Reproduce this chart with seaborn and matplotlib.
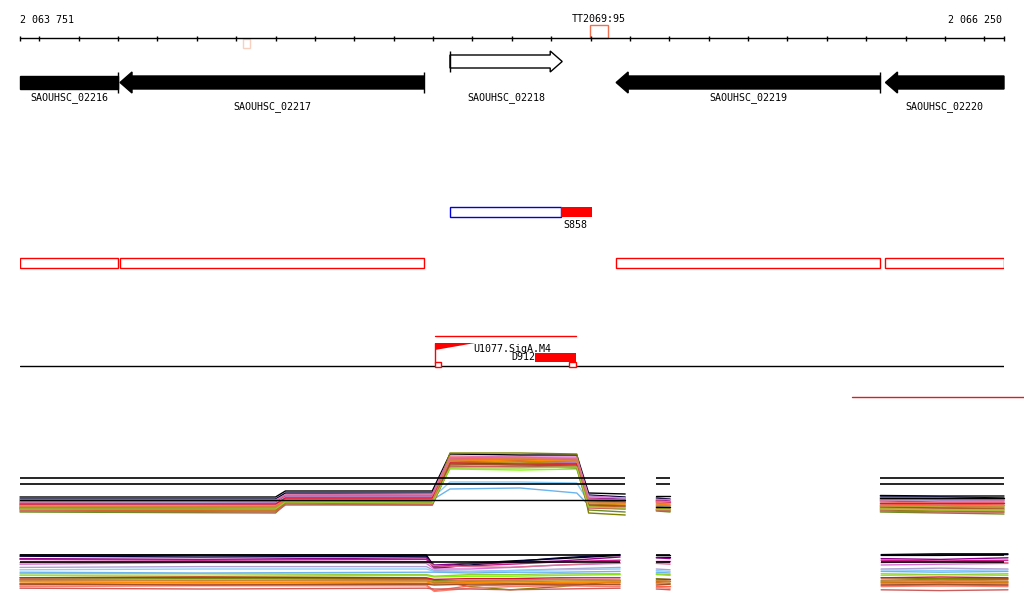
import numpy as np
import pandas as pd
import matplotlib
matplotlib.use('Agg')
import matplotlib.pyplot as plt
from matplotlib.patches import Rectangle
import seaborn as sns

# view window (bp)
view_start, view_end = 2063751, 2066250

# genes
gene_names = ['SAOUHSC_02216', 'SAOUHSC_02217', 'SAOUHSC_02218', 'SAOUHSC_02219', 'SAOUHSC_02220']
gene_starts = [2063480, 2064005, 2064843, 2065265, 2065949]
gene_ends = [2064000, 2064777, 2065128, 2065936, 2066590]
gene_strands = ['-', '-', '+', '-', '-']
gene_filled = [True, True, False, True, True]

# other features
terminator_name = 'TT2069:95'
terminator_span = (2065199, 2065245)
faint_span = (2064318, 2064335)
s858_name = 'S858'
s858_span = (2064843, 2065125, 2065204)
promoter_name = 'U1077.SigA.M4'
promoter_span = (2064805, 2064907)
transcript_span = (2064805, 2065164)
d912_name = 'D912'
d912_span = (2065059, 2065164)
marker_span = (2065865, 2066301)

# expression profiles, panel 1
top_x = [[2063751, 2064400, 2064425, 2064798, 2064843, 2065021, 2065165, 2065195, 2065288],
         [2065367, 2065402],
         [2065936, 2066088, 2066250]]
top_colors = ['#000000', '#000033', '#8B008B', '#C71585', '#DA70D6', '#B0A0D0', '#87CEFA', '#6CB4EE',
              '#7CFC00', '#6B8E23', '#808000', '#B8860B', '#D2691E', '#FF8C00', '#FF6347', '#FA8072',
              '#CD5C5C', '#DC143C', '#A0522D', '#CD853F', '#DB7093', '#9ACD32', '#000000']
top_signal = [
    [4.6, 4.6, 5.8, 5.8, 13.2, 13.0, 13.0, 5.4, 5.2, 4.8, 4.8, 4.9, 4.8, 4.8],
    [4.2, 4.2, 5.4, 5.4, 12.0, 11.8, 11.6, 5.0, 4.6, 4.4, 4.2, 4.6, 4.6, 4.4],
    [3.8, 3.6, 4.8, 4.8, 12.4, 12.2, 12.0, 4.4, 4.2, 4.0, 3.8, 4.2, 4.0, 4.0],
    [3.4, 3.4, 4.6, 4.6, 11.6, 11.8, 11.4, 4.2, 3.8, 3.6, 3.6, 3.8, 3.6, 3.6],
    [4.0, 4.0, 5.0, 5.2, 12.8, 12.6, 12.6, 4.8, 4.4, 4.2, 4.2, 4.4, 4.4, 4.2],
    [3.6, 3.4, 4.6, 4.6, 12.0, 11.6, 11.6, 4.6, 4.4, 3.8, 3.6, 4.0, 3.8, 3.8],
    [3.2, 3.0, 4.2, 4.4, 7.6, 7.6, 7.4, 3.6, 3.4, 3.0, 3.0, 3.4, 3.2, 3.2],
    [3.0, 3.0, 4.0, 4.0, 6.2, 6.4, 5.4, 3.0, 2.8, 2.8, 2.6, 3.0, 3.0, 2.8],
    [2.6, 2.4, 3.8, 3.6, 10.2, 10.0, 10.2, 2.6, 2.2, 2.4, 2.2, 2.8, 2.6, 2.8],
    [1.6, 1.4, 3.2, 3.0, 10.6, 10.8, 10.4, 2.0, 1.6, 1.8, 1.6, 1.6, 1.4, 1.2],
    [2.2, 2.0, 3.6, 3.4, 13.4, 13.4, 13.2, 1.4, 1.0, 2.0, 1.8, 2.0, 1.8, 1.6],
    [2.4, 2.6, 4.0, 4.0, 11.4, 11.6, 11.2, 3.2, 3.0, 2.6, 2.6, 2.4, 2.4, 2.2],
    [2.0, 1.8, 3.4, 3.2, 11.0, 11.2, 11.0, 2.8, 2.6, 2.2, 2.0, 2.2, 2.0, 2.0],
    [2.8, 2.6, 4.0, 3.8, 11.8, 12.0, 11.8, 3.4, 3.2, 3.2, 3.0, 3.0, 3.0, 3.0],
    [3.0, 2.8, 4.2, 4.2, 12.2, 12.4, 12.2, 3.8, 3.6, 3.4, 3.2, 3.2, 3.0, 3.2],
    [2.8, 3.0, 4.4, 4.4, 12.6, 12.4, 12.4, 4.0, 3.8, 3.6, 3.4, 3.6, 3.4, 3.4],
    [1.8, 1.6, 3.0, 3.0, 10.8, 10.6, 10.6, 2.4, 2.2, 2.0, 1.8, 1.8, 1.6, 1.6],
    [3.2, 3.2, 4.4, 4.4, 11.4, 11.2, 11.2, 3.8, 3.6, 3.8, 3.6, 3.4, 3.4, 3.4],
    [2.4, 2.2, 3.6, 3.6, 11.2, 11.0, 10.8, 3.0, 2.8, 2.6, 2.4, 2.6, 2.4, 2.4],
    [2.6, 2.6, 3.8, 3.8, 12.0, 12.2, 12.0, 3.6, 3.4, 3.0, 2.8, 2.8, 2.8, 2.6],
    [3.6, 3.8, 5.0, 5.0, 12.4, 12.6, 12.2, 4.2, 4.0, 3.8, 3.8, 4.0, 4.2, 4.0],
    [2.2, 2.2, 3.6, 3.4, 10.4, 10.4, 10.6, 2.6, 2.4, 2.2, 2.2, 2.2, 2.0, 2.0],
    [4.0, 4.0, 4.0, 4.0, 4.0, 4.0, 4.0, 4.0, 4.0, 2.6, 2.6, 4.4, 4.4, 4.4],
]
top_refs = [8.4, 7.2]

# expression profiles, panel 2
bot_x = [[2063751, 2064208, 2064783, 2064803, 2064894, 2064996, 2065123, 2065275],
         [2065367, 2065402],
         [2065938, 2066088, 2066260]]
bot_colors = ['#000000', '#000033', '#8B008B', '#C71585', '#DA70D6', '#B0A0D0', '#87CEFA', '#6CB4EE',
              '#7CFC00', '#6B8E23', '#808000', '#B8860B', '#D2691E', '#FF8C00', '#FF6347', '#FA8072',
              '#CD5C5C', '#DC143C', '#A0522D', '#CD853F', '#DB7093', '#9ACD32']
bot_signal = [
    [10.5, 10.5, 10.5, 7.6, 8.4, 9.0, 9.6, 10.4, 10.4, 10.4, 10.4, 10.4, 10.6],
    [10.2, 10.0, 10.2, 7.2, 8.0, 8.8, 9.8, 10.6, 10.0, 10.0, 10.6, 10.8, 10.8],
    [9.6, 9.4, 9.8, 8.0, 8.4, 8.6, 9.0, 10.0, 9.8, 9.6, 9.6, 9.4, 9.8],
    [9.4, 9.2, 9.4, 7.4, 7.8, 8.2, 8.8, 9.2, 9.0, 9.0, 9.2, 9.0, 9.2],
    [8.2, 8.6, 8.4, 7.0, 7.0, 7.4, 8.0, 8.4, 8.8, 8.6, 8.0, 8.2, 8.4],
    [7.4, 7.6, 7.6, 6.6, 6.4, 6.6, 7.0, 7.4, 7.0, 6.8, 7.0, 7.2, 7.0],
    [6.8, 7.0, 7.0, 6.4, 6.4, 6.6, 6.8, 7.0, 6.6, 6.4, 6.8, 6.6, 6.8],
    [6.2, 6.0, 6.2, 6.2, 6.0, 6.2, 6.2, 6.4, 6.2, 6.0, 6.4, 6.2, 6.4],
    [5.4, 5.2, 5.4, 5.0, 5.2, 5.2, 5.4, 5.6, 5.6, 5.4, 5.4, 5.6, 5.4],
    [4.4, 4.6, 4.4, 4.2, 4.0, 4.2, 4.4, 4.2, 4.6, 4.4, 4.2, 4.4, 4.4],
    [4.8, 4.8, 4.6, 4.2, 2.6, 1.8, 2.6, 4.0, 4.0, 4.0, 4.8, 4.6, 4.6],
    [4.0, 4.2, 4.0, 3.6, 3.8, 3.8, 4.0, 4.0, 4.0, 3.8, 3.6, 3.8, 3.6],
    [3.4, 3.6, 3.4, 3.4, 3.6, 3.4, 3.4, 3.6, 3.6, 3.4, 3.8, 3.6, 3.8],
    [3.8, 3.6, 3.8, 3.2, 3.6, 3.8, 3.6, 3.8, 3.4, 3.2, 3.4, 3.2, 3.4],
    [3.0, 3.2, 3.0, 1.6, 2.8, 3.0, 3.2, 3.0, 2.8, 2.8, 3.0, 2.8, 3.0],
    [2.6, 2.8, 2.8, 1.4, 2.2, 2.6, 2.8, 2.6, 2.4, 2.2, 2.6, 2.8, 2.6],
    [2.2, 2.0, 2.2, 2.0, 2.0, 1.8, 2.0, 2.2, 2.0, 1.8, 1.8, 1.6, 1.8],
    [4.8, 5.0, 4.8, 4.4, 4.6, 4.6, 4.8, 4.8, 4.6, 4.6, 4.8, 5.0, 4.8],
    [3.2, 3.0, 3.2, 3.0, 3.2, 3.2, 3.0, 3.2, 3.0, 3.2, 3.0, 3.2, 3.0],
    [4.2, 4.0, 4.2, 3.8, 4.2, 4.2, 4.4, 4.2, 4.2, 4.0, 4.0, 4.2, 4.0],
    [8.6, 8.8, 8.8, 7.8, 7.6, 7.4, 8.0, 8.6, 8.4, 8.2, 8.6, 8.8, 8.6],
    [5.8, 5.8, 5.6, 5.2, 5.6, 5.6, 5.8, 5.8, 5.8, 5.6, 5.8, 5.6, 5.8],
]
bot_refs = [10.5, 8.75]

sns.set_theme(style='white')
plt.rcParams['font.family'] = ['DejaVu Sans Mono', 'DejaVu Sans']
plt.rcParams['text.color'] = 'black'
FS = 7.2

W, H = 1024, 611
fig = plt.figure(figsize=(W / 100, H / 100), dpi=100)
fig.patch.set_facecolor('white')

# annotation axes: x in bp, y in pixel rows
ax = fig.add_axes([20 / W, 0, 984 / W, 1])
ax.set_xlim(view_start, view_end)
ax.set_ylim(H, 0)
ax.axis('off')
bp_px = (view_end - view_start) / 984.0

# ruler
ax.plot([view_start, view_end], [38, 38], color='black', lw=1, clip_on=False)
ticks = [view_start] + list(range(2063800, view_end, 100)) + [view_end]
ax.vlines(ticks, 35.5, 41, color='black', lw=1, clip_on=False)
ax.text(view_start, 20, '2 063 751', fontsize=FS, ha='left', va='center')
ax.text(view_end - 2 * bp_px, 20, '2 066 250', fontsize=FS, ha='right', va='center')
ax.add_patch(Rectangle((terminator_span[0], 25), terminator_span[1] - terminator_span[0], 13,
                       fill=False, ec='#F07050', lw=1))
ax.text(sum(terminator_span) / 2, 19, terminator_name, fontsize=FS, ha='center', va='center')
ax.add_patch(Rectangle((faint_span[0], 39), faint_span[1] - faint_span[0], 9,
                       fill=False, ec='#F8D0C0', lw=1))

# genes
head = 12 * bp_px
label_dy = [0, 9, 0, 0, 9]
for i, name in enumerate(gene_names):
    s, e, strand = gene_starts[i], gene_ends[i], gene_strands[i]
    vs, ve = max(s, view_start), min(e, view_end)
    fc = 'black' if gene_filled[i] else 'white'
    if strand == '-':
        b0, b1, h0, h1 = 76, 89, 72, 93
        if s >= view_start:
            xs = [s, s + head, s + head, ve, ve, s + head, s + head]
            ys = [(h0 + h1) / 2, h0, b0, b0, b1, b1, h1]
        else:
            xs, ys = [vs, ve, ve, vs], [b0, b0, b1, b1]
        if e <= view_end:
            ax.vlines(e, h0, h1, color='black', lw=1)
        # boxes track (reverse strand genes only)
        ax.add_patch(Rectangle((vs, 258), ve - vs, 10, fill=False, ec='red', lw=1))
    else:
        b0, b1, h0, h1 = 55, 68, 51, 72
        if e <= view_end:
            xs = [vs, e - head, e - head, e, e - head, e - head, vs]
            ys = [b0, b0, h0, (h0 + h1) / 2, h1, b1, b1]
        else:
            xs, ys = [vs, ve, ve, vs], [b0, b0, b1, b1]
        if s >= view_start:
            ax.vlines(s, h0, h1, color='black', lw=1)
    ax.fill(xs, ys, facecolor=fc, edgecolor='black', lw=1, clip_on=False)
    ax.text((vs + ve) / 2, 97.5 + label_dy[i], name, fontsize=FS, ha='center', va='center')

# S858
ax.add_patch(Rectangle((s858_span[0], 207), s858_span[1] - s858_span[0], 10, fill=False, ec='#0000DD', lw=1))
ax.add_patch(Rectangle((s858_span[1], 207), s858_span[2] - s858_span[1], 10, color='red', lw=0))
ax.text(s858_span[1] + 2 * bp_px, 224.5, s858_name, fontsize=FS, ha='left', va='center')

# promoter / transcript track
ax.plot(transcript_span, [336, 336], color='red', lw=1)
ax.fill([promoter_span[0], promoter_span[1], promoter_span[0]], [343, 343, 350], color='red', lw=0)
ax.vlines(promoter_span[0], 343, 363, color='red', lw=1)
ax.text(promoter_span[1] - 2 * bp_px, 349.5, promoter_name, fontsize=FS, ha='left', va='center')
ax.add_patch(Rectangle((d912_span[0], 353), d912_span[1] - d912_span[0], 9, color='red', lw=0))
ax.text(d912_span[0], 357, d912_name, fontsize=FS, ha='right', va='center')
ax.add_patch(Rectangle((transcript_span[0], 362), 6 * bp_px, 4.5, fc='white', ec='red', lw=1, zorder=3))
ax.add_patch(Rectangle((transcript_span[1] - 7 * bp_px, 362), 7 * bp_px, 4.5, fc='white', ec='red', lw=1, zorder=3))
ax.plot([view_start, view_end], [366, 366], color='black', lw=1, zorder=2)
ax.plot(marker_span, [397, 397], color='#D82020', lw=1, clip_on=False)


def profile_frame(xsegs, signal):
    rows = []
    for k, vals in enumerate(signal):
        j = 0
        for seg, xs in enumerate(xsegs):
            for x in xs:
                rows.append((k, seg, x, vals[j]))
                j += 1
    return pd.DataFrame(rows, columns=['series', 'segment', 'pos', 'signal'])


def expr_panel(top_px, bot_px, ymax, xsegs, signal, colors, refs):
    a = fig.add_axes([20 / W, 1 - bot_px / H, 984 / W, (bot_px - top_px) / H])
    a.patch.set_alpha(0)
    df = profile_frame(xsegs, signal)
    sns.lineplot(data=df, x='pos', y='signal', hue='series', units='segment', estimator=None,
                 palette=colors, legend=False, lw=1, sort=False, ax=a)
    for xs in xsegs:
        a.hlines(refs, xs[0], xs[-1], color='black', lw=1.2)
    a.set_xlim(view_start, view_end)
    a.set_ylim(0, ymax)
    a.axis('off')
    for ln in a.lines:
        ln.set_clip_on(False)


expr_panel(440, 520, 16, top_x, top_signal, top_colors, top_refs)
expr_panel(545, 597, 13, bot_x, bot_signal, bot_colors, bot_refs)

fig.savefig('out.png', dpi=100, facecolor='white')
